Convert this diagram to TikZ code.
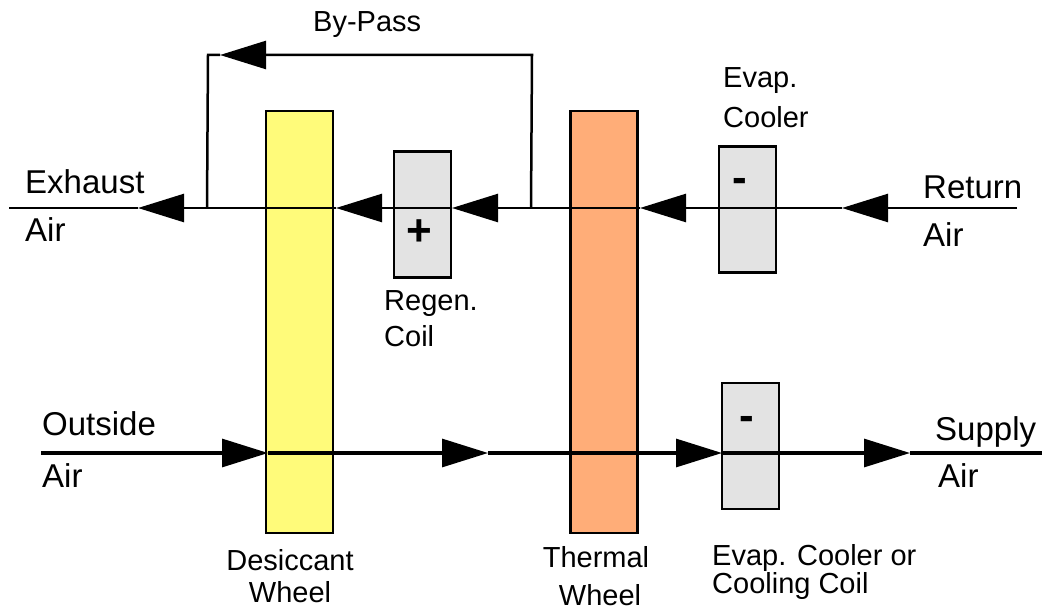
\documentclass[tikz,border=0pt]{standalone}
\usepackage{fontspec}
\setmainfont{Liberation Sans}
\usetikzlibrary{arrows.meta}
\definecolor{wheelyellow}{RGB}{255,251,122}
\definecolor{wheelorange}{RGB}{255,173,120}
\definecolor{coilgrey}{RGB}{227,227,227}
\tikzset{
  lbl/.style={font=\fontsize{33}{36}\selectfont, inner sep=0pt, anchor=base west},
  sml/.style={font=\fontsize{29}{32}\selectfont, inner sep=0pt, anchor=base west},
  smlc/.style={font=\fontsize{29}{32}\selectfont, inner sep=0pt, anchor=base},
  sign/.style={font=\fontsize{44}{44}\selectfont\bfseries, inner sep=0pt, anchor=base},
  wheelbox/.style={draw=black, line width=2.4pt, inner sep=0pt, minimum width=67pt, minimum height=422pt},
  coilbox/.style={draw=black, line width=2.4pt, fill=coilgrey, inner sep=0pt, minimum width=57pt, minimum height=126pt},
  flow/.style={line width=2.5pt, -{Triangle[length=46pt,width=28pt]}},
  pipe/.style={line width=2.5pt},
  flowb/.style={line width=3.1pt, -{Triangle[length=46pt,width=28pt]}},
  pipeb/.style={line width=3.1pt}
}
\begin{document}
\begin{tikzpicture}[x=1pt,y=-1pt]
\fill[white] (0,0) rectangle (1044,610);
\useasboundingbox (0,0) rectangle (1044,610);

% components
\node[wheelbox, fill=wheelyellow] (desic) at (299.5,322) {};
\node[wheelbox, fill=wheelorange] (therm) at (604,322) {};
\node[coilbox] (regen) at (422.5,214.5) {};
\node[coilbox] (evapA) at (747.5,209.5) {};
\node[coilbox] (evapB) at (750.5,446) {};

% top (exhaust) line coordinates
\coordinate (rin) at (1017,208);
\coordinate (t1) at (842,208);
\coordinate (t2) at (640,208);
\coordinate (jR) at (531,208);
\coordinate (t3) at (452,208);
\coordinate (t4) at (336,208);
\coordinate (jL) at (207,208);
\coordinate (t5) at (138,208);
\coordinate (xout) at (9,208);
\coordinate (bR) at (532,55);
\coordinate (t6) at (220,55);
\coordinate (bL) at (208,55);

\draw[flow] (rin) -- (t1);
\draw[flow] (t1) -- (t2);
\draw[flow] (t2) -- (t3);
\draw[flow] (t3) -- (t4);
\draw[flow] (t4) -- (t5);
\draw[pipe] (t5) -- (xout);
% by-pass
\draw[flow] (jR) -- (bR) -- (t6);
\draw[pipe] (t6) -- (bL) -- (jL);

% bottom (supply) line
\coordinate (oin) at (41,453);
\coordinate (s1) at (268,453);
\coordinate (s2) at (488,453);
\coordinate (s3) at (722,453);
\coordinate (s4) at (910,453);
\coordinate (sout) at (1042,453);
\draw[flowb] (oin) -- (s1);
\draw[flowb] (s1) -- (s2);
\draw[flowb] (s2) -- (s3);
\draw[flowb] (s3) -- (s4);
\draw[pipeb] (s4) -- (sout);

% signs
\node[sign] (plus) at (419,245) {+};
\node[sign] (minA) at (740,192) {-};
\node[sign] (minB) at (747,430) {-};

% labels
\node[sml] (bypass) at (313,32) {By-Pass};
\node[lbl] (exh) at (25,193) {Exhaust};
\node[lbl] (exhair) at (25,241) {Air};
\node[lbl] (ret) at (923,198) {Return};
\node[lbl] (retair) at (923,246) {Air};
\node[sml] (evap1) at (723,87) {Evap.};
\node[sml] (evap2) at (723,127) {Cooler};
\node[sml] (reg1) at (384,310) {Regen.};
\node[sml] (reg2) at (384,346) {Coil};
\node[lbl] (out) at (42,435) {Outside};
\node[lbl] (outair) at (42,487) {Air};
\node[lbl] (sup) at (935,440) {Supply};
\node[lbl] (supair) at (938,487) {Air};
\node[smlc] (des1) at (290,570) {Desiccant};
\node[smlc] (des2) at (290,602) {Wheel};
\node[smlc] (th1) at (596,567) {Thermal};
\node[smlc] (th2) at (600,605) {Wheel};
\node[sml] (ec1) at (712,565) {Evap. Cooler or};
\node[sml] (ec2) at (712,593) {Cooling Coil};
\end{tikzpicture}
\end{document}
